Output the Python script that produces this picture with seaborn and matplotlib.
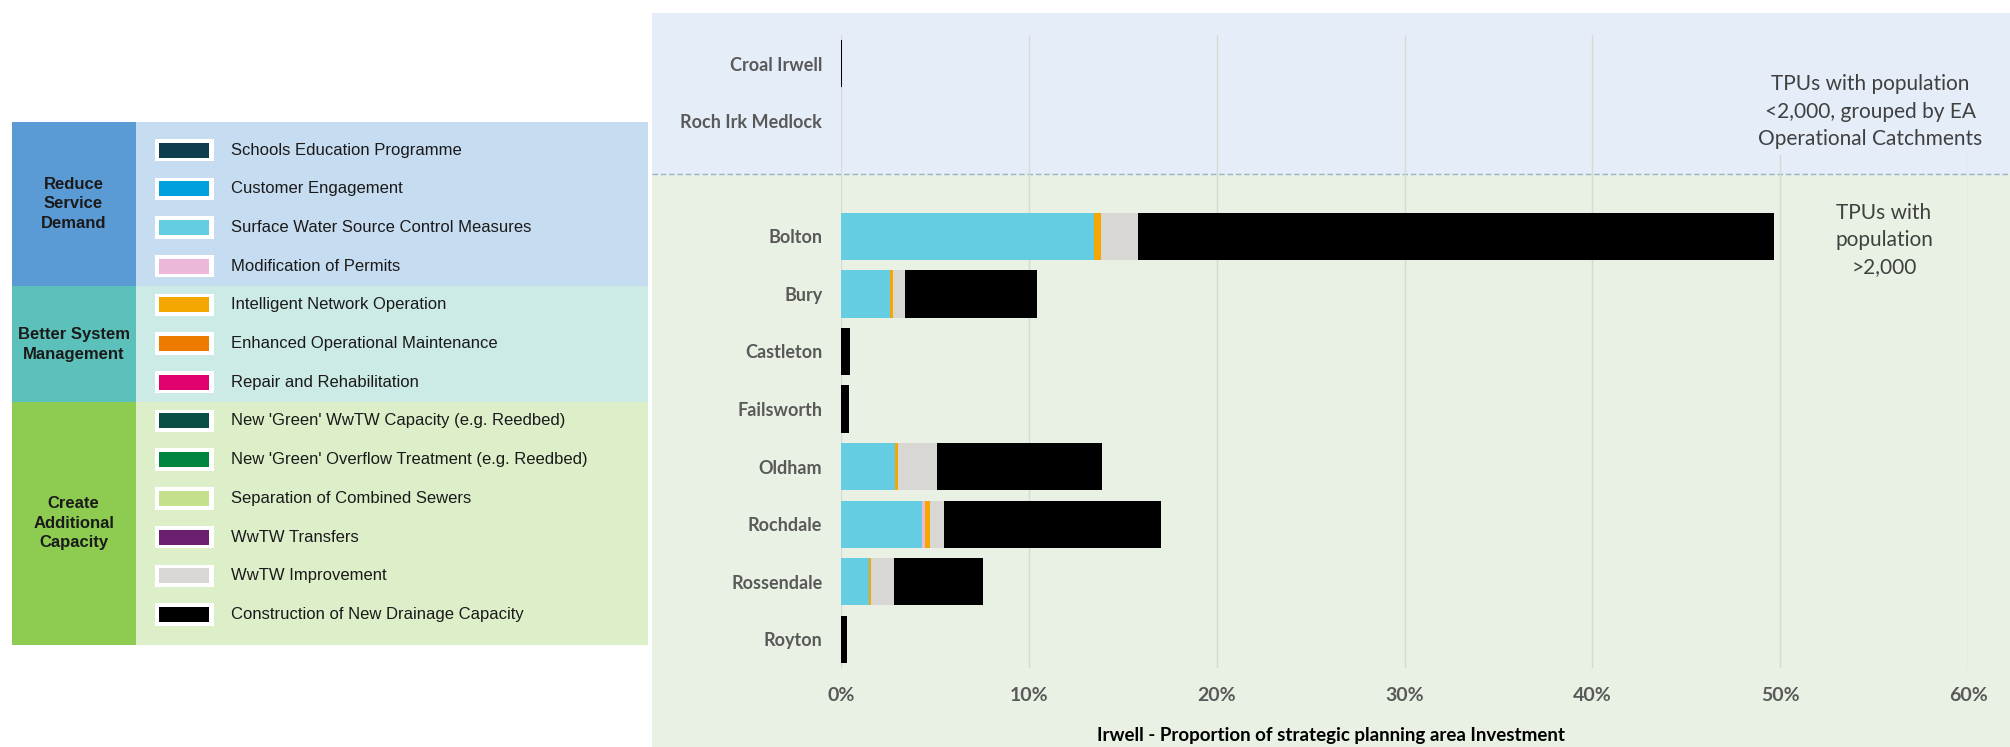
import matplotlib
matplotlib.use("Agg")
import matplotlib.pyplot as plt
from matplotlib.patches import Rectangle
from matplotlib.lines import Line2D
import seaborn as sns
import pandas as pd

# ---- data: share of strategic planning area investment (%) per TPU ----
tpus_small = ["Croal Irwell", "Roch Irk Medlock"]
tpus_large = ["Bolton", "Bury", "Castleton", "Failsworth", "Oldham",
              "Rochdale", "Rossendale", "Royton"]
tpus = tpus_small + tpus_large

surface_water = [0, 0, 13.46, 2.63, 0, 0, 2.90, 4.31, 1.48, 0]
modification_permits = [0, 0, 0, 0, 0, 0, 0, 0.18, 0, 0]
intelligent_network = [0, 0, 0.37, 0.15, 0, 0, 0.15, 0.23, 0.14, 0]
wwtw_improvement = [0, 0, 2.00, 0.64, 0, 0, 2.04, 0.76, 1.19, 0]
new_drainage = [0.06, 0, 33.84, 6.99, 0.50, 0.44, 8.83, 11.58, 4.75, 0.30]

x_ticks = [0, 10, 20, 30, 40, 50, 60]

# ---- measure legend ----
groups = ["Reduce\nService\nDemand", "Better System\nManagement",
          "Create\nAdditional\nCapacity"]
measures = ["Schools Education Programme", "Customer Engagement",
            "Surface Water Source Control Measures", "Modification of Permits",
            "Intelligent Network Operation", "Enhanced Operational Maintenance",
            "Repair and Rehabilitation", "New 'Green' WwTW Capacity (e.g. Reedbed)",
            "New 'Green' Overflow Treatment (e.g. Reedbed)",
            "Separation of Combined Sewers", "WwTW Transfers", "WwTW Improvement",
            "Construction of New Drainage Capacity"]
measure_colors = ["#0E3E4E", "#009FDD", "#64CDE2", "#EDB7DA", "#F4A700",
                  "#EE7A00", "#E0006E", "#0A4F46", "#00843E", "#C5E08C",
                  "#6C1F6F", "#D9D7D4", "#000000"]

# series that appear in the chart, stacked left to right
stack = [
    ("Surface Water Source Control Measures", surface_water),
    ("Modification of Permits", modification_permits),
    ("Intelligent Network Operation", intelligent_network),
    ("WwTW Improvement", wwtw_improvement),
    ("Construction of New Drainage Capacity", new_drainage),
]

W, H = 2010, 747
fig = plt.figure(figsize=(W / 100, H / 100), dpi=100)
sns.set_style("white")
plt.rcParams["font.family"] = ["Lato", "DejaVu Sans"]


def fx(px):
    return px / W


def fy(py):
    return 1 - py / H


def frect(x0, y0, x1, y1, color, z=0):
    fig.add_artist(Rectangle((fx(x0), fy(y1)), fx(x1) - fx(x0), fy(y0) - fy(y1),
                             transform=fig.transFigure, facecolor=color,
                             edgecolor="none", zorder=z))


# ---- chart panel backgrounds ----
blue_bg = "#E5EDF8"
green_bg = "#E8F1E3"
split_y = 173.6
frect(652, 13, W, split_y, blue_bg, z=-5)
frect(652, split_y, W, H, green_bg, z=-5)
fig.add_artist(Line2D([fx(652), 1], [fy(split_y), fy(split_y)],
                      transform=fig.transFigure, color="#98B1C9", lw=1.0,
                      linestyle=(0, (4, 2)), zorder=-4))

# ---- stacked bars ----
order = tpus_small + [" "] + tpus_large
rows = []
for name, vals in stack:
    for t, v in zip(tpus, vals):
        rows.append({"tpu": t, "measure": name, "value": v})
df = pd.DataFrame(rows)
df["end"] = df.groupby("tpu")["value"].cumsum()

ax = fig.add_axes([fx(841), fy(668), fx(1968) - fx(841), fy(35) - fy(668)])
ax.set_facecolor("none")
color_of = dict(zip(measures, measure_colors))
for name, _ in reversed(stack):
    sub = df[df["measure"] == name]
    sns.barplot(data=sub, x="end", y="tpu", order=order, orient="h",
                color=color_of[name], saturation=1, width=0.82,
                errorbar=None, linewidth=0, ax=ax)

ax.set_xlim(0, 60)
ax.set_ylim(len(order) - 0.5, -0.5)
ax.set_xticks(x_ticks)
ax.set_xticklabels([f"{v}%" for v in x_ticks])
ax.set_yticks(range(len(order)))
ax.set_yticklabels([o.strip() for o in order])
ax.set_xlabel("")
ax.set_ylabel("")
ax.grid(axis="x", color="#D6DAD3", lw=1)
ax.grid(axis="y", visible=False)
ax.set_axisbelow(True)
for s in ax.spines.values():
    s.set_visible(False)
ax.tick_params(axis="y", length=0, pad=13.5, labelsize=13, labelcolor="#595959")
ax.tick_params(axis="x", length=0, pad=14, labelsize=14, labelcolor="#595959")
for lab in ax.get_xticklabels() + ax.get_yticklabels():
    lab.set_fontweight("bold")

fig.text(fx(1331), fy(736), "Irwell - Proportion of strategic planning area Investment",
         ha="center", va="center", fontsize=13.5, fontweight="bold", color="#000000")

# group annotations
cover = Rectangle((fx(1752), fy(155)), fx(1992) - fx(1752), fy(30) - fy(155),
                  transform=fig.transFigure, facecolor=blue_bg, edgecolor="none",
                  zorder=0.8, clip_on=False)
ax.add_artist(cover)
fig.text(fx(1870), fy(111.5), "TPUs with population\n<2,000, grouped by EA\nOperational Catchments",
         ha="center", va="center", fontsize=15, color="#404040", linespacing=1.45)
fig.text(fx(1884), fy(240), "TPUs with\npopulation\n>2,000",
         ha="center", va="center", fontsize=15, color="#404040", linespacing=1.45)

# ---- legend panel ----
cat_colors = ["#5B9BD5", "#5DC1BB", "#8DCC50"]
item_bgs = ["#C6DCF1", "#CDEBE6", "#DDEFC9"]
bounds = [121.7, 285.7, 401.7, 645.0]
lx0, lsplit, lx1 = 11.5, 135.6, 648.0
label_centres = [204, 344.5, 523]
for i in range(3):
    frect(lx0, bounds[i], lsplit, bounds[i + 1], cat_colors[i])
    frect(lsplit, bounds[i], lx1, bounds[i + 1], item_bgs[i])
    fig.text(fx((lx0 + lsplit) / 2), fy(label_centres[i]),
             groups[i], ha="center", va="center", fontsize=12, fontweight="bold",
             color="#1A1A1A", family=["Liberation Sans", "DejaVu Sans"], linespacing=1.35)

item_y0, item_step = 150.0, 38.7
for k, (m, c) in enumerate(zip(measures, measure_colors)):
    yc = item_y0 + k * item_step
    frect(154.5, yc - 11.2, 213.5, yc + 11.2, "#FFFFFF", z=1)
    frect(158.7, yc - 7.5, 209.2, yc + 7.5, c, z=2)
    fig.text(fx(230.7), fy(yc), m, ha="left", va="center", fontsize=12,
             color="#1A1A1A", family=["Liberation Sans", "DejaVu Sans"])

fig.savefig("out.png", dpi=100, facecolor="white")
